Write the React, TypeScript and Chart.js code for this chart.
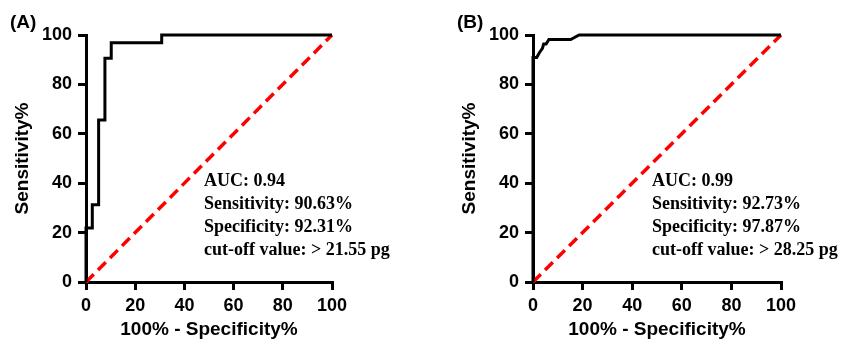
import React, { useEffect, useRef } from 'react';
import { Chart, registerables } from 'chart.js';

Chart.register(...registerables);

// ---- data ----
const AXIS_TICKS = [0, 20, 40, 60, 80, 100];
const DIAG_X = [0, 100];
const DIAG_Y = [0, 100];

const ROC_A_X = [0, 0, 2.56, 2.56, 5.13, 5.13, 7.69, 7.69, 10.26, 10.26, 30.77, 30.77, 100];
const ROC_A_Y = [0, 21.88, 21.88, 31.25, 31.25, 65.63, 65.63, 90.63, 90.63, 96.88, 96.88, 100, 100];

const ROC_B_X = [0, 0, 1.5, 2.5, 3.8, 4.3, 5.3, 6.4, 15.2, 18.6, 100];
const ROC_B_Y = [0, 90.91, 90.91, 92.73, 94.55, 96.36, 96.36, 98.18, 98.18, 100, 100];

const STATS_A = ['AUC: 0.94', 'Sensitivity: 90.63%', 'Specificity: 92.31%', 'cut-off value: > 21.55 pg'];
const STATS_B = ['AUC: 0.99', 'Sensitivity: 92.73%', 'Specificity: 97.87%', 'cut-off value: > 28.25 pg'];

const X_TITLE = '100% - Specificity%';
const Y_TITLE = 'Sensitivity%';

const SANS = '"Liberation Sans", Arial, Helvetica, sans-serif';
const SERIF = '"Liberation Serif", "Times New Roman", serif';

type PanelProps = {
  label: string;
  xs: number[];
  ys: number[];
  stats: string[];
  left: number;
  width: number;
  axisLeft: number;
  plotRight: number;
};

function RocPanel({ label, xs, ys, stats, left, width, axisLeft, plotRight }: PanelProps) {
  const ref = useRef<HTMLCanvasElement>(null);

  useEffect(() => {
    const canvas = ref.current;
    if (!canvas) return;

    const textPlugin = {
      id: 'panelText',
      afterDraw(chart: any) {
        const ctx = chart.ctx as CanvasRenderingContext2D;
        ctx.save();
        ctx.fillStyle = '#000';
        ctx.textBaseline = 'middle';
        ctx.textAlign = 'left';
        ctx.font = `bold 19px ${SANS}`;
        ctx.fillText(label, 10, 23);
        ctx.font = `bold 18px ${SERIF}`;
        const x = chart.scales.x.getPixelForValue(48);
        const y0 = chart.scales.y.getPixelForValue(40.6);
        stats.forEach((s, i) => ctx.fillText(s, x, y0 + i * 23));
        ctx.restore();
      },
    };

    const tickFont = { family: SANS, weight: 'bold' as const, size: 18 };
    const titleFont = { family: SANS, weight: 'bold' as const, size: 19 };
    const setTicks = (s: any) => {
      s.ticks = AXIS_TICKS.map((v) => ({ value: v }));
    };

    const chart = new Chart(canvas, {
      type: 'line',
      data: {
        datasets: [
          {
            data: xs.map((x, i) => ({ x, y: ys[i] })),
            borderColor: '#000',
            borderWidth: 3,
            pointRadius: 0,
            tension: 0,
            fill: false,
            clip: false as any,
            borderJoinStyle: 'miter',
          },
          {
            data: DIAG_X.map((x, i) => ({ x, y: DIAG_Y[i] })),
            borderColor: '#ff0000',
            borderWidth: 3.5,
            borderDash: [11, 6],
            pointRadius: 0,
            tension: 0,
            fill: false,
            clip: false as any,
          },
        ],
      },
      options: {
        responsive: false,
        animation: false,
        devicePixelRatio: 1,
        layout: { padding: { left: 0, top: 35, right: width - plotRight, bottom: 0 } },
        plugins: { legend: { display: false }, tooltip: { enabled: false } },
        scales: {
          x: {
            type: 'linear',
            min: 0,
            max: 100,
            afterBuildTicks: setTicks,
            afterFit: (s: any) => {
              s.height = 65;
            },
            grid: {
              display: true,
              drawOnChartArea: false,
              drawTicks: true,
              tickLength: 8,
              tickWidth: 3,
              tickColor: '#000',
              lineWidth: 3,
              color: '#000',
            },
            border: { display: true, color: '#000', width: 3 },
            ticks: { font: tickFont, color: '#000', padding: 5, maxRotation: 0, autoSkip: false },
            title: { display: true, text: X_TITLE, font: titleFont, color: '#000', padding: { top: 0, bottom: 6 } },
          },
          y: {
            type: 'linear',
            min: 0,
            max: 100,
            afterBuildTicks: setTicks,
            afterFit: (s: any) => {
              s.width = axisLeft;
            },
            grid: {
              display: true,
              drawOnChartArea: false,
              drawTicks: true,
              tickLength: 8,
              tickWidth: 3,
              tickColor: '#000',
              lineWidth: 3,
              color: '#000',
            },
            border: { display: true, color: '#000', width: 3 },
            ticks: { font: tickFont, color: '#000', padding: 6, autoSkip: false },
            title: { display: true, text: Y_TITLE, font: titleFont, color: '#000', padding: { top: 11, bottom: 0 } },
          },
        },
      } as any,
      plugins: [textPlugin],
    });

    return () => chart.destroy();
  }, []);

  return (
    <canvas
      ref={ref}
      width={width}
      height={347}
      style={{ position: 'absolute', left, top: 0, width, height: 347, display: 'block' }}
    />
  );
}

export default function App() {
  return (
    <div style={{ position: 'fixed', left: 0, top: 0, width: 844, height: 347, background: '#fff', overflow: 'hidden' }}>
      <RocPanel label="(A)" xs={ROC_A_X} ys={ROC_A_Y} stats={STATS_A} left={0} width={447} axisLeft={86} plotRight={332} />
      <RocPanel label="(B)" xs={ROC_B_X} ys={ROC_B_Y} stats={STATS_B} left={447} width={397} axisLeft={86} plotRight={334} />
    </div>
  );
}
